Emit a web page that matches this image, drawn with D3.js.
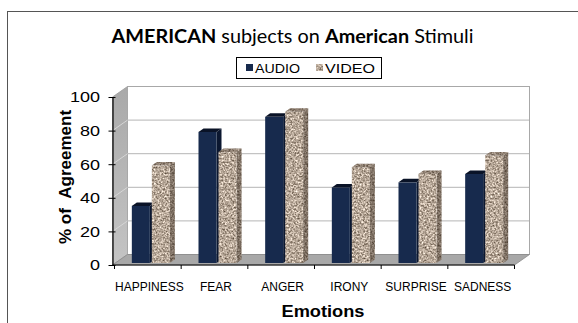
<!DOCTYPE html>
<html>
<head>
<meta charset="utf-8">
<script src="https://cdn.jsdelivr.net/npm/d3@7"></script>
<style>
  html, body { margin: 0; padding: 0; background: #fff; }
  svg { display: block; }
</style>
</head>
<body>
<svg id="chart" width="578" height="323"></svg>
<script>
// Agreement (%) of American subjects on American stimuli, per emotion
const categories = ["HAPPINESS", "FEAR", "ANGER", "IRONY", "SURPRISE", "SADNESS"];
const audio = [34, 78, 87, 45, 48, 53];
const video = [58, 66, 90, 57, 53, 64];
const seriesNames = ["AUDIO", "VIDEO"];
const yTicks = [0, 20, 40, 60, 80, 100];

const svg = d3.select("#chart");
const W = 578, H = 323;

svg.append("rect").attr("width", W).attr("height", H).attr("fill", "#fff");

// granite texture for the VIDEO columns
const defs = svg.append("defs");
const f = defs.append("filter").attr("id", "granite")
  .attr("x", 0).attr("y", 0).attr("width", 1).attr("height", 1)
  .attr("color-interpolation-filters", "sRGB");
f.append("feTurbulence").attr("type", "fractalNoise").attr("baseFrequency", 0.55)
  .attr("numOctaves", 2).attr("seed", 7).attr("result", "noise");
f.append("feGaussianBlur").attr("in", "noise").attr("stdDeviation", 0.35).attr("result", "soft");
f.append("feColorMatrix").attr("in", "soft").attr("type", "matrix")
  .attr("values", "1.0 0 0 0 0.22  1.0 0 0 0 0.16  1.0 0 0 0 0.10  0 0 0 0 1")
  .attr("result", "tex");
f.append("feComposite").attr("in", "tex").attr("in2", "SourceGraphic").attr("operator", "in");

const wallGrad = defs.append("linearGradient").attr("id", "wallGrad")
  .attr("x1", 0).attr("y1", 0).attr("x2", 0).attr("y2", 1);
wallGrad.append("stop").attr("offset", 0).attr("stop-color", "#a9a9a9");
wallGrad.append("stop").attr("offset", 1).attr("stop-color", "#c4c4c4");

// outer frame
svg.append("rect").attr("x", 7.5).attr("y", 11.5).attr("width", 620).attr("height", 400)
  .attr("fill", "none").attr("stroke", "#555").attr("stroke-width", 1);

// title
const title = svg.append("text")
  .attr("x", 292.5).attr("y", 43)
  .attr("text-anchor", "middle")
  .attr("font-family", "Lato, 'Open Sans', sans-serif")
  .attr("font-size", 18.5)
  .attr("textLength", 362).attr("lengthAdjust", "spacingAndGlyphs")
  .attr("fill", "#000");
title.append("tspan").attr("font-weight", "bold").text("AMERICAN");
title.append("tspan").text(" subjects on ");
title.append("tspan").attr("font-weight", "bold").text("American");
title.append("tspan").text(" Stimuli");

// geometry of the 3D frame
const depth = { dx: 15, dy: -10.5 };
const x = d3.scaleBand().domain(categories).range([114.5, 514.5]);
const yFront = d3.scaleLinear().domain([0, 100]).range([265, 97]);
const yBack = v => yFront(v) + depth.dy;
const yBar = d3.scaleLinear().domain([0, 100]).range([263, 95]);
const x0 = 112.5, x1 = 514.5;

// left side wall
svg.append("polygon")
  .attr("points", [[x0, yFront(0)], [x0, yFront(100)], [x0 + depth.dx, yBack(100)], [x0 + depth.dx, yBack(0)]].join(" "))
  .attr("fill", "url(#wallGrad)").attr("stroke", "#9a9a9a").attr("stroke-width", 0.8);

// back wall
svg.append("rect")
  .attr("x", x0 + depth.dx).attr("y", yBack(100))
  .attr("width", (x1 + depth.dx) - (x0 + depth.dx)).attr("height", yBack(0) - yBack(100))
  .attr("fill", "#fff").attr("stroke", "#a8a8a8").attr("stroke-width", 1);

// gridlines on back and side walls
yTicks.filter(v => v > 0 && v < 100).forEach(v => {
  svg.append("line")
    .attr("x1", x0 + depth.dx).attr("x2", x1 + depth.dx)
    .attr("y1", yBack(v)).attr("y2", yBack(v))
    .attr("stroke", "#b5b5b5").attr("stroke-width", 1);
  svg.append("line")
    .attr("x1", x0).attr("x2", x0 + depth.dx)
    .attr("y1", yFront(v)).attr("y2", yBack(v))
    .attr("stroke", "#d6d6d6").attr("stroke-width", 1);
});

// floor
svg.append("polygon")
  .attr("points", [[x0, yFront(0)], [x1, yFront(0)], [x1 + depth.dx, yBack(0)], [x0 + depth.dx, yBack(0)]].join(" "))
  .attr("fill", "#a8a8a8").attr("stroke", "#8a8a8a").attr("stroke-width", 0.8);

// columns
const bw = 18, gap = 2, shift = 3;
const bd = { dx: 5, dy: -3.5 };

function column(g, cx, v, kind) {
  const left = cx, right = cx + bw;
  const top = yBar(v), bottom = yBar(0);
  const side = [[right, top], [right + bd.dx, top + bd.dy], [right + bd.dx, bottom + bd.dy], [right, bottom]];
  const cap = [[left, top], [left + bd.dx, top + bd.dy], [right + bd.dx, top + bd.dy], [right, top]];
  if (kind === "audio") {
    g.append("polygon").attr("points", side.join(" ")).attr("fill", "#0b1730");
    g.append("rect").attr("x", left).attr("y", top).attr("width", bw).attr("height", bottom - top)
      .attr("fill", "#172a4d");
    g.append("polygon").attr("points", cap.join(" ")).attr("fill", "#0a1327");
  } else {
    g.append("polygon").attr("points", side.join(" ")).attr("fill", "#999").attr("filter", "url(#granite)");
    g.append("polygon").attr("points", side.join(" ")).attr("fill", "rgba(50,38,28,0.42)");
    g.append("rect").attr("x", left).attr("y", top).attr("width", bw).attr("height", bottom - top)
      .attr("fill", "#999").attr("filter", "url(#granite)");
    g.append("polygon").attr("points", cap.join(" ")).attr("fill", "#999").attr("filter", "url(#granite)");
    g.append("polygon").attr("points", cap.join(" ")).attr("fill", "rgba(50,38,28,0.3)");
  }
}

const bars = svg.append("g");
categories.forEach((c, i) => {
  const mid = x(c) + x.bandwidth() / 2 + shift;
  column(bars, mid - gap / 2 - bw, audio[i], "audio");
  column(bars, mid + gap / 2, video[i], "video");
});

// right edge of the back wall over the floor corner
svg.append("line").attr("x1", x1 + depth.dx).attr("x2", x1 + depth.dx)
  .attr("y1", yBack(100)).attr("y2", yBack(0)).attr("stroke", "#a8a8a8");

// y axis
const yAxis = svg.append("g").attr("transform", `translate(${x0},0)`)
  .call(d3.axisLeft(yFront).tickValues(yTicks).tickSizeInner(4).tickSizeOuter(0).tickPadding(6.5));
yAxis.select(".domain").attr("stroke", "#000").attr("stroke-width", 1.2);
yAxis.selectAll(".tick line").attr("x1", 3).attr("x2", -4).attr("stroke", "#000");
yAxis.selectAll(".tick text")
  .attr("font-family", "Arial, 'Liberation Sans', sans-serif")
  .attr("font-size", 15).attr("fill", "#000")
  .attr("transform", "scale(1.2,1)");

// x axis: front edge of the floor with ticks at category boundaries
svg.append("line").attr("x1", x0).attr("x2", x1).attr("y1", yFront(0)).attr("y2", yFront(0))
  .attr("stroke", "#000").attr("stroke-width", 1.2);
const bounds = categories.map(c => x(c)).concat([x.range()[1]]);
svg.selectAll(".xtick").data(bounds).join("line").attr("class", "xtick")
  .attr("x1", d => d).attr("x2", d => d)
  .attr("y1", yFront(0)).attr("y2", yFront(0) + 4)
  .attr("stroke", "#000");
const xAxis = svg.append("g").attr("transform", `translate(1.5,${yFront(0)})`)
  .call(d3.axisBottom(x).tickSize(0).tickPadding(17));
xAxis.select(".domain").remove();
xAxis.selectAll(".tick text")
  .attr("font-family", "Arial, 'Liberation Sans', sans-serif")
  .attr("font-size", 12).attr("fill", "#000");

// axis titles
svg.append("text")
  .attr("x", 323).attr("y", 317)
  .attr("text-anchor", "middle")
  .attr("font-family", "Arial, 'Liberation Sans', sans-serif")
  .attr("font-weight", "bold").attr("font-size", 16)
  .attr("textLength", 83).attr("lengthAdjust", "spacingAndGlyphs")
  .text("Emotions");

svg.append("text")
  .attr("transform", "translate(71,177) rotate(-90)")
  .attr("text-anchor", "middle")
  .attr("font-family", "Arial, 'Liberation Sans', sans-serif")
  .attr("font-weight", "bold").attr("font-size", 17)
  .text("% of\u00a0\u00a0Agreement");

// legend
const lg = svg.append("g");
lg.append("rect").attr("x", 236.5).attr("y", 57.5).attr("width", 145).attr("height", 21)
  .attr("fill", "#fff").attr("stroke", "#000").attr("stroke-width", 1);
const items = [
  { name: seriesNames[0], sx: 246, tx: 255, kind: "audio" },
  { name: seriesNames[1], sx: 316, tx: 325, kind: "video" }
];
items.forEach(it => {
  if (it.kind === "audio") {
    lg.append("rect").attr("x", it.sx).attr("y", 64).attr("width", 7).attr("height", 7).attr("fill", "#172a4d");
  } else {
    lg.append("rect").attr("x", it.sx).attr("y", 64).attr("width", 7).attr("height", 7)
      .attr("fill", "#999").attr("filter", "url(#granite)");
  }
  lg.append("text").attr("x", it.tx).attr("y", 73)
    .attr("font-family", "Arial, 'Liberation Sans', sans-serif")
    .attr("font-size", 13)
    .attr("textLength", it.kind === "audio" ? 45 : 50).attr("lengthAdjust", "spacingAndGlyphs")
    .text(it.name);
});
</script>
</body>
</html>
